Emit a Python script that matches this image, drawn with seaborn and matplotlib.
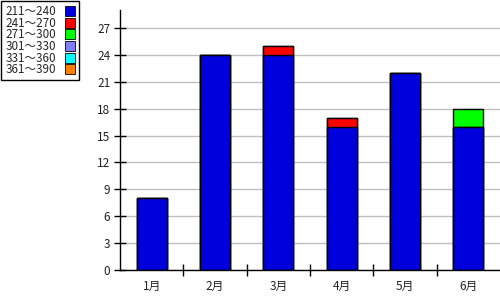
import matplotlib
matplotlib.use("Agg")
import matplotlib.pyplot as plt
import seaborn as sns
import numpy as np
import pandas as pd
from matplotlib.lines import Line2D
from matplotlib.ticker import MultipleLocator, FixedLocator

months = ["1月", "2月", "3月", "4月", "5月", "6月"]
ranges = ["211〜240", "241〜270", "271〜300", "301〜330", "331〜360", "361〜390"]
colors = ["#0000dd", "#ff0000", "#00ff00", "#8080ff", "#00ffff", "#ff8000"]
s211 = [8, 24, 24, 16, 22, 16]
s241 = [0, 0, 1, 1, 0, 0]
s271 = [0, 0, 0, 0, 0, 2]
s301 = [0, 0, 0, 0, 0, 0]
s331 = [0, 0, 0, 0, 0, 0]
s361 = [0, 0, 0, 0, 0, 0]
series = [s211, s241, s271, s301, s331, s361]

sns.set_style("white")
plt.rcParams['font.family'] = ['Noto Sans CJK JP', 'DejaVu Sans']

fig = plt.figure(figsize=(5, 3), dpi=100)
ax = fig.add_axes([0.24, 0.1, 0.76, 260 / 300])

cum = np.cumsum(np.array(series), axis=0)
# draw from top of stack downward so lower segments overlay higher ones
for i in range(len(series) - 1, -1, -1):
    if np.sum(series[i]) == 0:
        continue
    df = pd.DataFrame({"month": months, "value": cum[i]})
    sns.barplot(data=df, x="month", y="value", color=colors[i], saturation=1,
                width=0.47, edgecolor="black", linewidth=1, ax=ax, zorder=3)

ax.set_xlim(-0.5, 5.5)
ax.set_ylim(0, 29)
ax.yaxis.set_major_locator(MultipleLocator(3))
ax.grid(axis="y", color="#c0c0c0", linewidth=1, zorder=0)
ax.set_axisbelow(True)
ax.set_xlabel("")
ax.set_ylabel("")
for s in ["top", "right"]:
    ax.spines[s].set_visible(False)
for s in ["left", "bottom"]:
    ax.spines[s].set_color("black")
    ax.spines[s].set_linewidth(1)
    ax.spines[s].set_zorder(5)

ax.xaxis.set_minor_locator(FixedLocator([0.5, 1.5, 2.5, 3.5, 4.5]))
ax.tick_params(axis="x", which="major", bottom=True, length=0, pad=7, labelsize=8.5,
               labelcolor="#222222")
ax.tick_params(axis="x", which="minor", bottom=True, length=9, direction="inout", width=1,
               color="black")
ax.tick_params(axis="y", which="major", left=True, length=8, direction="inout", width=1,
               color="black", labelsize=8.5, labelcolor="#222222", pad=3)

handles = [Line2D([0], [0], marker="s", linestyle="none", markersize=6.5,
                  markerfacecolor=c, markeredgecolor="black", markeredgewidth=0.6)
           for c in colors]
leg = fig.legend(handles, ranges, loc="upper left", bbox_to_anchor=(0.0, 1.0),
                 markerfirst=False, fancybox=False, edgecolor="black", framealpha=1,
                 fontsize=8.4, handlelength=0.8, handletextpad=0.8, labelspacing=-0.12,
                 borderpad=0.35, borderaxespad=0.1)
leg.get_frame().set_linewidth(1)

fig.savefig("out.png", dpi=100)
